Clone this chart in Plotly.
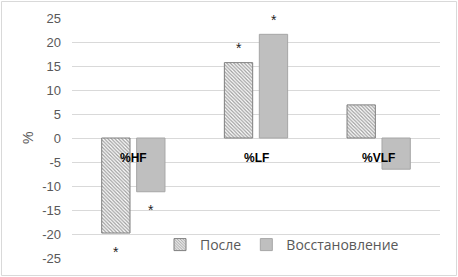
import plotly.graph_objects as go

categories = ["%HF", "%LF", "%VLF"]
after_vals = [-19.8, 15.7, 6.9]
recovery_vals = [-11.2, 21.6, -6.5]
sig_after = [True, True, False]
sig_recovery = [True, True, False]
series_names = ["После", "Восстановление"]
y_ticks = [-25, -20, -15, -10, -5, 0, 5, 10, 15, 20, 25]

W, H = 458, 277
ML, MR, MT, MB = 72, 18, 18, 19
PW, PH = W - ML - MR, H - MT - MB

FONT = "Liberation Sans"
LFONT = "Open Sans"
TXT = "#595959"

fig = go.Figure()
fig.add_trace(go.Bar(
    x=categories, y=after_vals, name=series_names[0],
    marker=dict(color="white", line=dict(color="#7f7f7f", width=1),
                pattern=dict(shape="\\", fgcolor="#404040", bgcolor="white", size=2.5, solidity=0.5)),
))
fig.add_trace(go.Bar(
    x=categories, y=recovery_vals, name=series_names[1],
    marker=dict(color="#bfbfbf", line=dict(color="#a6a6a6", width=1)),
))

ann = []
for i, c in enumerate(categories):
    ann.append(dict(x=c, y=-4.2, xref="x", yref="y", text="<b>%s</b>" % c, showarrow=False,
                    font=dict(family=FONT, size=12, color="#000000")))
for vals, sig, shift in ((after_vals, sig_after, -17.5), (recovery_vals, sig_recovery, 17.5)):
    for c, v, s in zip(categories, vals, sig):
        if s:
            off = 3.0 if v > 0 else -3.9
            ann.append(dict(x=c, y=v + off, xref="x", yref="y", text="*", showarrow=False,
                            xshift=shift, font=dict(family=FONT, size=14, color="#222222")))
ann.append(dict(x=(18 - ML) / PW, y=(H - MB - 138) / PH, xref="paper", yref="paper", text="%",
                textangle=-90, showarrow=False, font=dict(family=FONT, size=14, color=TXT)))

shapes = [dict(type="rect", xref="paper", yref="paper",
               x0=(1.5 - ML) / PW, x1=(W - 1.5 - ML) / PW,
               y0=(H - MB - (H - 1.5)) / PH, y1=(H - MB - 1.5) / PH,
               line=dict(color="#d9d9d9", width=1), fillcolor="rgba(0,0,0,0)", layer="above")]

fig.update_layout(
    width=W, height=H, margin=dict(l=ML, r=MR, t=MT, b=MB, autoexpand=False),
    paper_bgcolor="white", plot_bgcolor="white",
    barmode="group", bargap=0.43, bargroupgap=0.19,
    font=dict(family=FONT, size=13, color=TXT),
    showlegend=True,
    legend=dict(orientation="h", x=(160 - ML) / PW, y=(H - MB - 245) / PH, xanchor="left", yanchor="middle",
                font=dict(family=LFONT, size=14, color=TXT), bgcolor="rgba(0,0,0,0)", itemwidth=30),
    annotations=ann, shapes=shapes,
    xaxis=dict(showticklabels=False, showgrid=False, zeroline=False, showline=False, fixedrange=True,
               automargin=False),
    yaxis=dict(range=[-25, 25], tickvals=y_ticks, ticktext=[str(t) for t in y_ticks], automargin=False,
               showgrid=True, gridcolor="#d9d9d9", gridwidth=1, zeroline=True, zerolinecolor="#d9d9d9",
               zerolinewidth=1, showline=False, ticks="", ticklabelstandoff=10,
               tickfont=dict(family=FONT, size=13, color=TXT)),
)
fig.write_html("out.html", config={"displayModeBar": False},
               post_script="document.body.style.margin='0';document.body.style.padding='0';")
